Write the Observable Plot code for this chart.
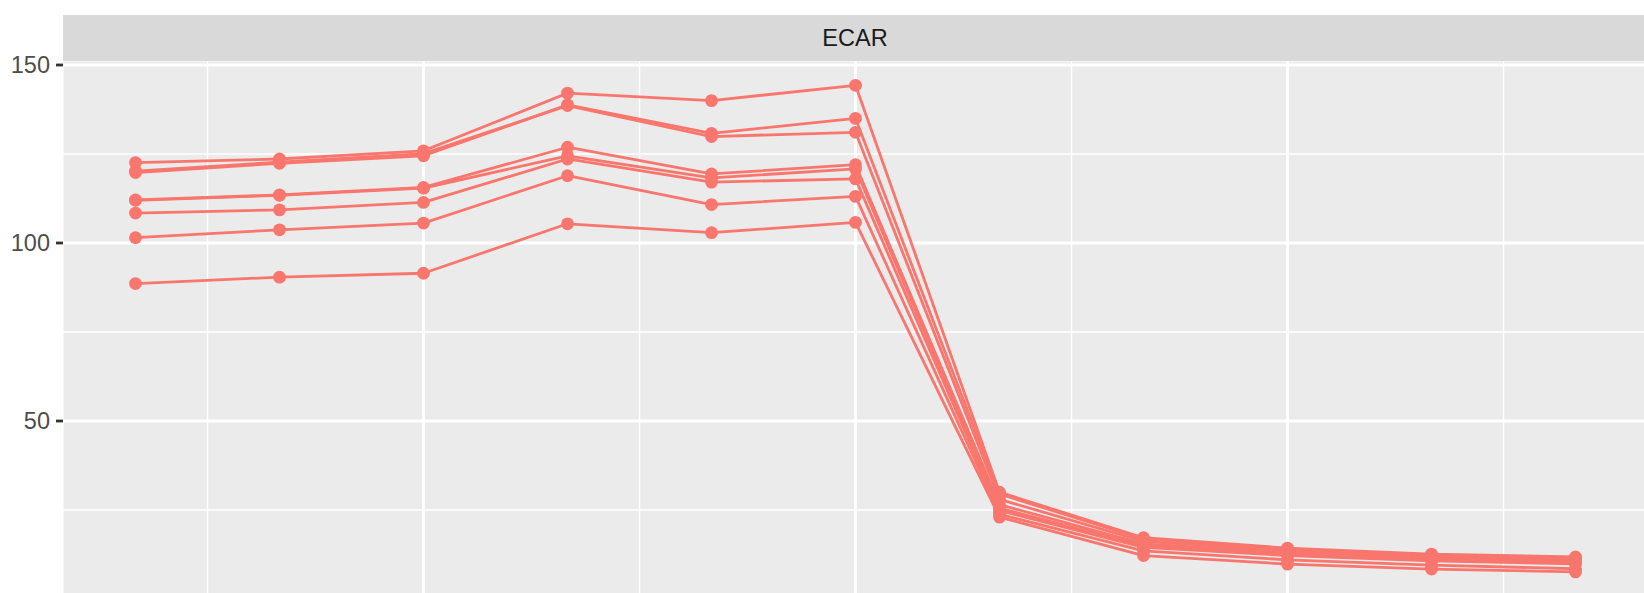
<!DOCTYPE html>
<html><head><meta charset="utf-8">
<script src="https://cdn.jsdelivr.net/npm/d3@7"></script>
<script src="https://cdn.jsdelivr.net/npm/@observablehq/plot@0.6"></script>
<style>
body{margin:0;background:#fff;}
#wrap{position:relative;width:1644px;height:593px;overflow:hidden;}
#chart{position:absolute;left:0;top:0;}
#strip{position:absolute;left:63px;top:15px;width:1584px;height:46px;background:#D9D9D9;color:#1A1A1A;font:23.5px "Liberation Sans",Arial,sans-serif;display:flex;align-items:center;justify-content:center;}
</style></head><body>
<div id="wrap"><div id="chart"></div><div id="strip">ECAR</div></div>
<script>
const time = [1, 2, 3, 4, 5, 6, 7, 8, 9, 10, 11];
const s1 = [122.6, 123.6, 125.9, 142.1, 140.0, 144.3, 30.0, 17.2, 14.3, 12.6, 11.8];
const s2 = [119.8, 122.4, 124.5, 138.8, 130.8, 135.0, 29.5, 16.8, 14.0, 12.3, 11.5];
const s3 = [120.2, 122.7, 125.1, 138.6, 129.9, 131.1, 28.0, 16.2, 13.6, 12.0, 11.0];
const s4 = [112.1, 113.5, 115.6, 126.9, 119.4, 122.0, 26.5, 15.5, 13.0, 11.5, 10.6];
const s5 = [112.0, 113.4, 115.4, 124.5, 118.3, 120.8, 25.5, 15.0, 12.6, 11.1, 10.2];
const s6 = [108.4, 109.3, 111.4, 123.6, 117.1, 118.0, 24.8, 14.5, 12.2, 10.7, 9.9];
const s7 = [101.5, 103.7, 105.6, 118.9, 110.8, 113.1, 23.8, 13.5, 11.0, 9.5, 8.5];
const s8 = [88.6, 90.4, 91.5, 105.4, 102.9, 105.8, 23.0, 12.2, 9.8, 8.4, 7.6];
const yTicks = [50, 100, 150];
const yMinor = [25, 75, 125];
const xMajor = [3, 6, 9];
const xMinor = [1.5, 4.5, 7.5, 10.5];

const seriesList = [s1, s2, s3, s4, s5, s6, s7, s8];
const rows = [];
seriesList.forEach((s, i) => s.forEach((v, j) => rows.push({series: "s" + (i + 1), time: time[j], value: v})));

const chart = Plot.plot({
  width: 1644, height: 593,
  marginTop: 61, marginLeft: 63, marginRight: 0, marginBottom: 0,
  style: {fontFamily: '"Liberation Sans", Arial, sans-serif', fontSize: "23.5px", background: "transparent", overflow: "visible"},
  x: {domain: [0.5, 11.5], range: [63, 1647], axis: null},
  y: {domain: [100, 150], range: [242.5, 64.5], axis: null},
  marks: [
    Plot.frame({fill: "#EBEBEB", stroke: null}),
    Plot.ruleY(yMinor, {stroke: "white", strokeWidth: 1.4}),
    Plot.ruleX(xMinor, {stroke: "white", strokeWidth: 1.4}),
    Plot.ruleY(yTicks, {stroke: "white", strokeWidth: 2.8}),
    Plot.ruleX(xMajor, {stroke: "white", strokeWidth: 2.8}),
    Plot.axisY({ticks: yTicks, tickSize: 7, tickPadding: 6.5, stroke: "#333333", strokeWidth: 2.8, fill: "#4D4D4D", fontSize: 23.5, label: null}),
    Plot.line(rows, {x: "time", y: "value", z: "series", stroke: "#F8766D", strokeWidth: 2.8}),
    Plot.dot(rows, {x: "time", y: "value", r: 6.4, fill: "#F8766D", stroke: null})
  ]
});
document.getElementById("chart").appendChild(chart);
</script>
</body></html>
